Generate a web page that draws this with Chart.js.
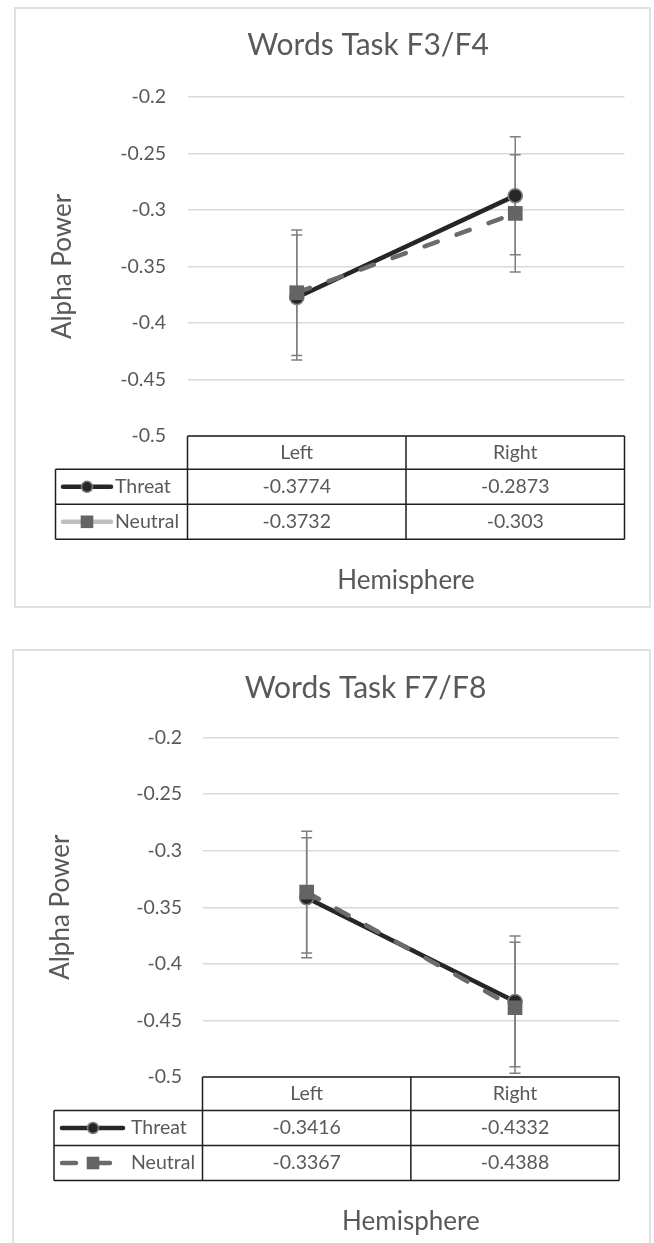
<!DOCTYPE html>
<html>
<head>
<meta charset="utf-8">
<title>Words Task – Alpha Power by Hemisphere</title>
<script src="https://cdn.jsdelivr.net/npm/chart.js@4.4.1/dist/chart.umd.min.js"></script>
<style>
  html, body { margin: 0; padding: 0; background: #ffffff; width: 654px; height: 1243px; overflow: hidden; }
  .frame { position: absolute; box-sizing: border-box; border: 2px solid #e0e0e0; background: #ffffff; }
  canvas { position: absolute; }
</style>
</head>
<body>
<div class="frame" id="frameF3"></div>
<canvas id="chartF3"></canvas>
<div class="frame" id="frameF7"></div>
<canvas id="chartF7"></canvas>
<script>
// ---- data ----
const hemispheres = ['Left', 'Right'];
const seriesNames = ['Threat', 'Neutral'];
const yTickValues = [-0.5, -0.45, -0.4, -0.35, -0.3, -0.25, -0.2];
const yAxisTitle = 'Alpha Power';
const xAxisTitle = 'Hemisphere';

const f3f4Title = 'Words Task F3/F4';
const f3f4Threat = [-0.3774, -0.2873];
const f3f4Neutral = [-0.3732, -0.303];
const f3f4ThreatErr = [0.0553, 0.0522];
const f3f4NeutralErr = [0.0556, 0.0519];

const f7f8Title = 'Words Task F7/F8';
const f7f8Threat = [-0.3416, -0.4332];
const f7f8Neutral = [-0.3367, -0.4388];
const f7f8ThreatErr = [0.0531, 0.0578];
const f7f8NeutralErr = [0.0538, 0.0578];

// ---- styles ----
const FONT = 'Lato, "Open Sans", sans-serif';
const TEXT = '#595959';
const GRID = '#d9d9d9';
const TABLE_LINE = '#1e1e1e';
const ERR_COLOR = '#7f7f7f';
const THREAT_COLOR = '#262626';
const NEUTRAL_COLOR = '#6b6b6b';
const NEUTRAL_MARKER = '#646464';
const SIZE_TICK = 19.5, SIZE_AXIS = 26, SIZE_TITLE = 30;

// ---- page layout of the two panels (page pixels) ----
const layoutF3 = {
  frame: { x: 14, y: 7, w: 637, h: 601 },
  canvas: { x: 15, y: 8, w: 635, h: 599 },
  plotLeft: 187.5, plotRight: 624.5, plotTop: 97, plotBottom: 436,
  tickRight: 166, yTitleX: 63, titleX: 368, titleY: 45.5, xTitleY: 581,
  tableLeft: 55.5, rowH: [33.3, 35, 35],
  keyLine: [63, 111], keyMarker: 87, keyText: 115,
  neutralKey: { color: '#bfbfbf', dash: [] }
};
const layoutF7 = {
  frame: { x: 12, y: 649, w: 639, h: 640 },
  canvas: { x: 14, y: 650, w: 635, h: 593 },
  plotLeft: 202.5, plotRight: 619.2, plotTop: 737.5, plotBottom: 1077,
  tickRight: 182, yTitleX: 61, titleX: 365.5, titleY: 688, xTitleY: 1222,
  tableLeft: 54, rowH: [33.5, 35, 35],
  keyLine: [62, 123], keyMarker: 93, keyText: 131,
  neutralKey: { color: NEUTRAL_COLOR, dash: [14, 20] }
};

function buildPanel(frameId, canvasId, L, title, threat, neutral, threatErr, neutralErr) {
  const fr = document.getElementById(frameId);
  Object.assign(fr.style, { left: L.frame.x + 'px', top: L.frame.y + 'px', width: L.frame.w + 'px', height: L.frame.h + 'px' });

  const cv = document.getElementById(canvasId);
  cv.width = L.canvas.w; cv.height = L.canvas.h;
  cv.style.left = L.canvas.x + 'px'; cv.style.top = L.canvas.y + 'px';
  cv.style.width = L.canvas.w + 'px'; cv.style.height = L.canvas.h + 'px';

  const ox = L.canvas.x, oy = L.canvas.y;
  const areaLeft = L.plotLeft - ox, areaRight = L.plotRight - ox;
  const areaTop = L.plotTop - oy, areaBottom = L.plotBottom - oy;
  const axisLH = SIZE_AXIS * 1.2;
  const errors = [threatErr, neutralErr];

  // vertical error bars behind the lines and markers
  const errorBars = {
    id: 'errorBars',
    beforeDatasetsDraw(chart) {
      const { ctx, scales: { x, y } } = chart;
      ctx.save();
      ctx.strokeStyle = ERR_COLOR;
      ctx.lineWidth = 1.5;
      chart.data.datasets.forEach((ds, di) => {
        ds.data.forEach((v, i) => {
          const px = x.getPixelForValue(i);
          const e = errors[di][i];
          const yt = y.getPixelForValue(v + e), yb = y.getPixelForValue(v - e);
          ctx.beginPath();
          ctx.moveTo(px, yt); ctx.lineTo(px, yb);
          ctx.moveTo(px - 5.5, yt); ctx.lineTo(px + 5.5, yt);
          ctx.moveTo(px - 5.5, yb); ctx.lineTo(px + 5.5, yb);
          ctx.stroke();
        });
      });
      ctx.restore();
    }
  };

  // chart heading
  const heading = {
    id: 'heading',
    afterDraw(chart) {
      const ctx = chart.ctx;
      ctx.save();
      ctx.fillStyle = TEXT;
      ctx.font = SIZE_TITLE + 'px ' + FONT;
      ctx.textAlign = 'center';
      ctx.textBaseline = 'middle';
      ctx.fillText(title, L.titleX - ox, L.titleY - oy);
      ctx.restore();
    }
  };

  // data table under the plot: category header, legend keys and values
  const dataTable = {
    id: 'dataTable',
    afterDraw(chart) {
      const { ctx, chartArea: a, scales: { x } } = chart;
      const left = L.tableLeft - ox;
      const y0 = a.bottom;
      const y1 = y0 + L.rowH[0], y2 = y1 + L.rowH[1], y3 = y2 + L.rowH[2];
      const mid = (x.getPixelForValue(0) + x.getPixelForValue(1)) / 2;
      const line = (x1, yA, x2, yB) => { ctx.moveTo(x1, yA); ctx.lineTo(x2, yB); };

      ctx.save();
      ctx.strokeStyle = TABLE_LINE;
      ctx.lineWidth = 1.5;
      ctx.beginPath();
      line(a.left, y0, a.right, y0);
      line(left, y1, a.right, y1);
      line(left, y2, a.right, y2);
      line(left, y3, a.right, y3);
      line(left, y1, left, y3);
      line(a.left, y0, a.left, y3);
      line(mid, y0, mid, y3);
      line(a.right, y0, a.right, y3);
      ctx.stroke();

      ctx.fillStyle = TEXT;
      ctx.font = SIZE_TICK + 'px ' + FONT;
      ctx.textAlign = 'center';
      ctx.textBaseline = 'middle';
      hemispheres.forEach((h, i) => ctx.fillText(h, x.getPixelForValue(i), (y0 + y1) / 2));
      const rows = [threat, neutral];
      const rowMid = [(y1 + y2) / 2, (y2 + y3) / 2];
      rows.forEach((vals, r) => vals.forEach((v, i) => ctx.fillText(String(v), x.getPixelForValue(i), rowMid[r])));

      // legend keys
      const kx1 = L.keyLine[0] - ox, kx2 = L.keyLine[1] - ox, km = L.keyMarker - ox;
      ctx.lineCap = 'round';
      ctx.lineWidth = 4.5;
      ctx.strokeStyle = THREAT_COLOR;
      ctx.beginPath(); line(kx1, rowMid[0], kx2, rowMid[0]); ctx.stroke();
      ctx.beginPath(); ctx.arc(km, rowMid[0], 5.5, 0, Math.PI * 2);
      ctx.fillStyle = THREAT_COLOR; ctx.fill();
      ctx.lineWidth = 1.5; ctx.strokeStyle = ERR_COLOR; ctx.stroke();

      ctx.lineWidth = 4.5;
      ctx.strokeStyle = L.neutralKey.color;
      ctx.setLineDash(L.neutralKey.dash);
      ctx.beginPath(); line(kx1, rowMid[1], kx2 - (L.neutralKey.dash.length ? 5 : 0), rowMid[1]); ctx.stroke();
      ctx.setLineDash([]);
      ctx.fillStyle = NEUTRAL_MARKER;
      ctx.fillRect(km - 6.3, rowMid[1] - 6.3, 12.6, 12.6);

      ctx.fillStyle = TEXT;
      ctx.textAlign = 'left';
      seriesNames.forEach((n, r) => ctx.fillText(n, L.keyText - ox, rowMid[r]));
      ctx.restore();
    }
  };

  return new Chart(cv, {
    type: 'line',
    data: {
      labels: hemispheres,
      datasets: [
        {
          label: seriesNames[0], data: threat, order: 1,
          borderColor: THREAT_COLOR, borderWidth: 4.5, tension: 0,
          pointStyle: 'circle', pointRadius: 7, pointBorderWidth: 1.5,
          pointBorderColor: ERR_COLOR, pointBackgroundColor: THREAT_COLOR
        },
        {
          label: seriesNames[1], data: neutral, order: 0,
          borderColor: NEUTRAL_COLOR, borderWidth: 4.5, tension: 0,
          borderDash: [14, 20], borderCapStyle: 'round',
          pointStyle: 'rect', pointRadius: 10.4, pointBorderWidth: 0,
          pointBorderColor: NEUTRAL_MARKER, pointBackgroundColor: NEUTRAL_MARKER
        }
      ]
    },
    options: {
      responsive: false,
      animation: false,
      devicePixelRatio: 1,
      layout: { padding: { top: areaTop, right: L.canvas.w - areaRight, left: 0, bottom: 0 } },
      plugins: { legend: { display: false }, tooltip: { enabled: false }, title: { display: false } },
      scales: {
        x: {
          type: 'category', offset: true,
          grid: { display: false, drawTicks: false },
          border: { display: false },
          ticks: { display: false },
          title: {
            display: true, text: xAxisTitle, color: TEXT,
            font: { family: FONT, size: SIZE_AXIS },
            padding: { top: 0, bottom: (L.canvas.h - (L.xTitleY - oy)) - axisLH / 2 }
          },
          afterFit: s => { s.height = L.canvas.h - areaBottom; }
        },
        y: {
          min: -0.5, max: -0.2,
          afterBuildTicks: s => { s.ticks = yTickValues.map(v => ({ value: v })); },
          grid: { color: GRID, lineWidth: 1.5, drawTicks: false },
          border: { display: false },
          ticks: {
            color: TEXT, font: { family: FONT, size: SIZE_TICK },
            padding: areaLeft - (L.tickRight - ox),
            callback: v => String(v)
          },
          title: {
            display: true, text: yAxisTitle, color: TEXT,
            font: { family: FONT, size: SIZE_AXIS },
            padding: { top: (L.yTitleX - ox) - axisLH / 2, bottom: 0 }
          },
          afterFit: s => { s.width = areaLeft; }
        }
      }
    },
    plugins: [errorBars, heading, dataTable]
  });
}

buildPanel('frameF3', 'chartF3', layoutF3, f3f4Title, f3f4Threat, f3f4Neutral, f3f4ThreatErr, f3f4NeutralErr);
buildPanel('frameF7', 'chartF7', layoutF7, f7f8Title, f7f8Threat, f7f8Neutral, f7f8ThreatErr, f7f8NeutralErr);
</script>
</body>
</html>
